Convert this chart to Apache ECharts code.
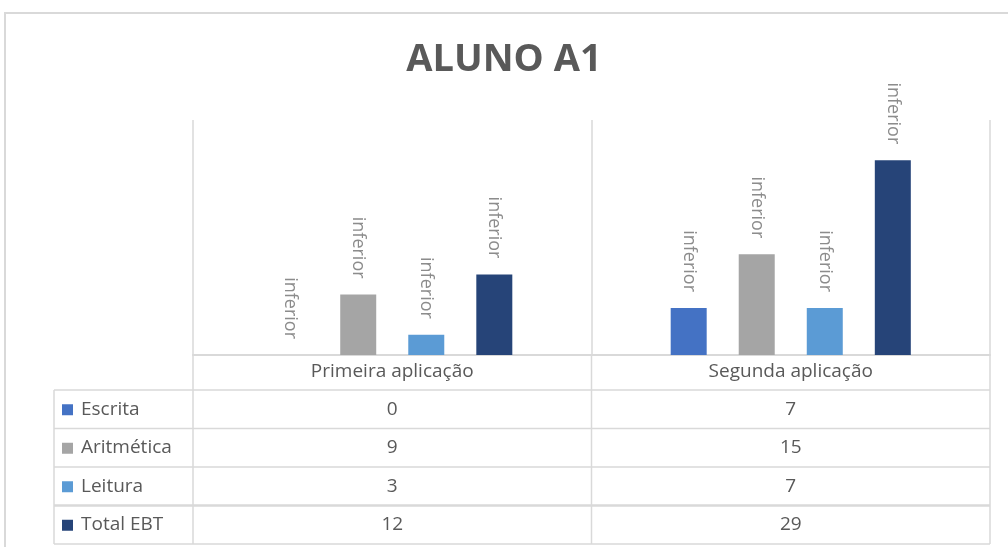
<!DOCTYPE html>
<html>
<head>
<meta charset="utf-8">
<script src="https://cdn.jsdelivr.net/npm/echarts@6/dist/echarts.min.js"></script>
<style>
  html, body { margin: 0; padding: 0; background: #fff; }
  #main { width: 1008px; height: 547px; }
</style>
</head>
<body>
<div id="main"></div>
<script>
// dados do gráfico
const categories = ['Primeira aplicação', 'Segunda aplicação'];
const seriesNames = ['Escrita', 'Aritmética', 'Leitura', 'Total EBT'];
const escrita = [0, 7];
const aritmetica = [9, 15];
const leitura = [3, 7];
const totalEBT = [12, 29];
const barLabel = 'inferior';

const seriesData = [escrita, aritmetica, leitura, totalEBT];
const colors = ['#4472C4', '#A5A5A5', '#5B9BD5', '#264478'];
const gridColor = '#d9d9d9';
const textColor = '#595959';
const font = '"Open Sans", "Noto Sans", sans-serif';

let myChart = echarts.init(document.getElementById('main'));

let option = {
    animation: false,
    backgroundColor: '#fff',
    title: {
        text: 'ALUNO A1',
        left: 'center',
        top: 36,
        textStyle: {
            color: textColor,
            fontFamily: font,
            fontSize: 38,
            fontWeight: 'bold'
        }
    },
    grid: {
        left: 193,
        right: 18,
        top: 120,
        bottom: 192
    },
    xAxis: {
        type: 'category',
        data: categories,
        axisLine: { lineStyle: { color: gridColor, width: 2 } },
        axisTick: { show: false },
        axisLabel: {
            color: textColor,
            fontFamily: font,
            fontSize: 19,
            margin: 7
        },
        splitLine: { show: true, lineStyle: { color: gridColor, width: 1.5 } }
    },
    yAxis: {
        type: 'value',
        min: 0,
        max: 35,
        show: false,
        splitLine: { show: false }
    },
    series: seriesNames.map((name, i) => ({
        name: name,
        type: 'bar',
        data: seriesData[i],
        barWidth: 36,
        barGap: '89%',
        itemStyle: { color: colors[i] },
        label: {
            show: true,
            formatter: barLabel,
            position: 'top',
            distance: 16,
            rotate: -90,
            align: 'right',
            verticalAlign: 'middle',
            color: '#8c8c8c',
            fontFamily: font,
            fontSize: 18
        }
    }))
};

myChart.setOption(option);

// tabela de dados abaixo do gráfico, posicionada pelos eixos
function buildTable() {
    let axisY = myChart.convertToPixel({ yAxisIndex: 0 }, 0);
    let centers = categories.map((c, i) => myChart.convertToPixel({ xAxisIndex: 0 }, i));
    let catW = centers[1] - centers[0];
    let colEdges = [centers[0] - catW / 2].concat(centers.map(c => c + catW / 2));
    let legendLeft = 54;
    let headerH = 35;
    let rowH = 38.5;
    let els = [];

    // borda externa
    els.push({
        type: 'rect',
        shape: { x: 5, y: 13, width: 1010, height: 545 },
        style: { fill: 'none', stroke: gridColor, lineWidth: 2 },
        silent: true
    });

    let rowTops = [];
    for (let r = 0; r <= seriesNames.length; r++) {
        rowTops.push(axisY + headerH + r * rowH);
    }
    let bottom = rowTops[rowTops.length - 1];

    // linhas horizontais
    rowTops.forEach((y, r) => {
        els.push({
            type: 'line',
            shape: { x1: legendLeft, y1: y, x2: colEdges[colEdges.length - 1], y2: y },
            style: { stroke: gridColor, lineWidth: r === 3 ? 2.5 : 1.5 },
            silent: true
        });
    });
    // linhas verticais
    els.push({
        type: 'line',
        shape: { x1: legendLeft, y1: rowTops[0], x2: legendLeft, y2: bottom },
        style: { stroke: gridColor, lineWidth: 1.5 },
        silent: true
    });
    colEdges.forEach(x => {
        els.push({
            type: 'line',
            shape: { x1: x, y1: axisY, x2: x, y2: bottom },
            style: { stroke: gridColor, lineWidth: 1.5 },
            silent: true
        });
    });

    // legenda e valores
    seriesNames.forEach((name, r) => {
        let cy = rowTops[r] + rowH / 2;
        els.push({
            type: 'rect',
            shape: { x: legendLeft + 8, y: cy - 5, width: 11, height: 11 },
            style: { fill: colors[r] },
            silent: true
        });
        els.push({
            type: 'text',
            x: legendLeft + 27,
            y: cy,
            style: {
                text: name,
                fill: textColor,
                font: '19px ' + font,
                textAlign: 'left',
                textVerticalAlign: 'middle'
            },
            silent: true
        });
        seriesData[r].forEach((v, c) => {
            els.push({
                type: 'text',
                x: centers[c],
                y: cy,
                style: {
                    text: String(v),
                    fill: textColor,
                    font: '19px ' + font,
                    textAlign: 'center',
                    textVerticalAlign: 'middle'
                },
                silent: true
            });
        });
    });

    myChart.setOption({ graphic: { elements: els } });
}

buildTable();

window.addEventListener('resize', function () {
    myChart.resize();
    buildTable();
});
</script>
</body>
</html>
